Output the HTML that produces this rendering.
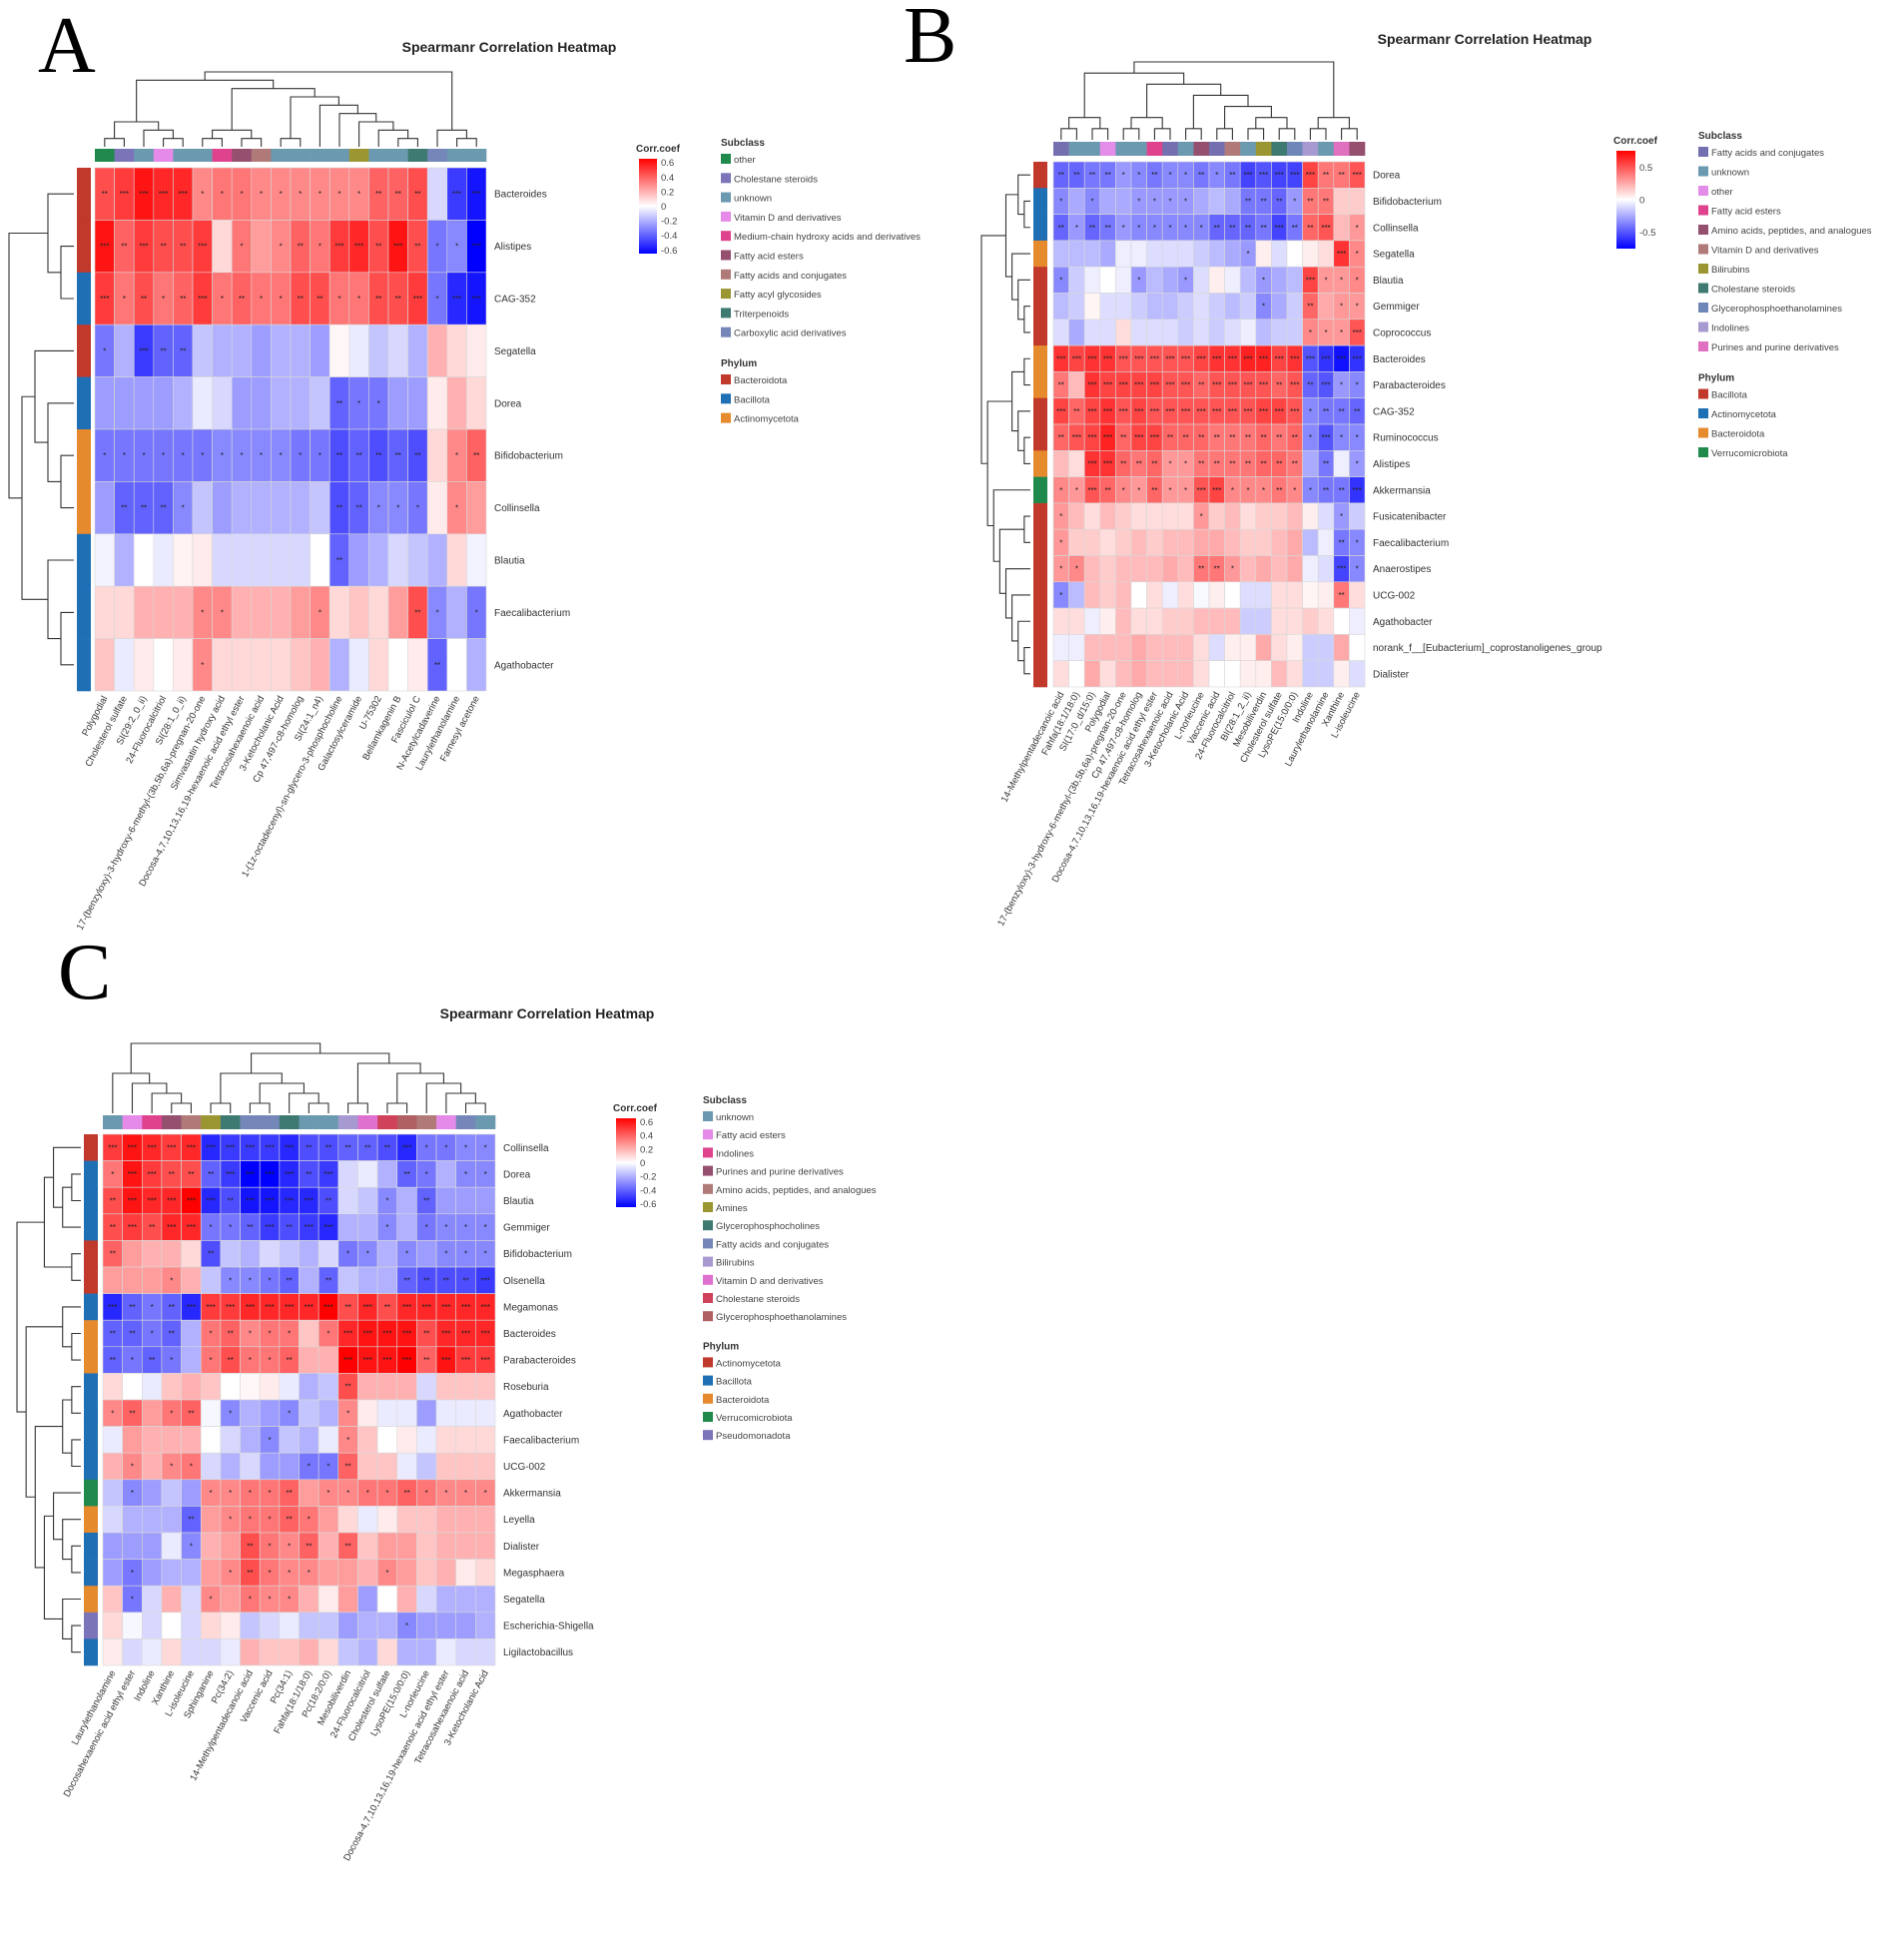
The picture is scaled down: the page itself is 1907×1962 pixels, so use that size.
<!DOCTYPE html>
<html><head><meta charset="utf-8">
<style>
html,body{margin:0;padding:0;background:#fff;}
svg{display:block;font-family:"Liberation Sans",Arial,sans-serif;}
</style></head>
<body>
<svg id="fig" width="1907" height="1962" viewBox="0 0 1907 1962" xmlns="http://www.w3.org/2000/svg">
<rect x="0" y="0" width="1907" height="1962" fill="#fff"/>
<text x="38" y="72" font-family="Liberation Serif,serif" font-size="80">A</text>
<text x="905" y="62" font-family="Liberation Serif,serif" font-size="80">B</text>
<text x="58" y="1000" font-family="Liberation Serif,serif" font-size="80">C</text>
</svg>
<script>
// ---------- Panel A data ----------
const aRows = ["Bacteroides","Alistipes","CAG-352","Segatella","Dorea","Bifidobacterium","Collinsella","Blautia","Faecalibacterium","Agathobacter"];
const aCols = ["Polygodial","Cholesterol sulfate","SI(29:2_0_ii)","24-Fluorocalcitriol","SI(28:1_0_ii)","17-(benzyloxy)-3-hydroxy-6-methyl-(3b,5b,6a)-pregnan-20-one","Simvastatin hydroxy acid","Docosa-4,7,10,13,16,19-hexaenoic acid ethyl ester","Tetracosahexaenoic acid","3-Ketocholanic Acid","Cp 47,497-c8-homolog","SI(24:1_n4)","1-(1z-octadecenyl)-sn-glycero-3-phosphocholine","Galactosylceramide","U-75302","Bellamkagenin B","Fasciculol C","N-Acetylcadaverine","Laurylethanolamine","Farnesyl acetone"];
const aValues = [
[.45,.5,.6,.55,.55,.3,.35,.35,.3,.3,.3,.3,.3,.3,.4,.4,.45,-.1,-.5,-.6],
[.6,.4,.5,.45,.45,.5,.1,.35,.25,.3,.4,.35,.5,.55,.45,.6,.45,-.35,-.3,-.65],
[.5,.35,.45,.35,.4,.5,.35,.4,.35,.35,.45,.45,.35,.35,.45,.45,.5,-.35,-.55,-.6],
[-.35,-.2,-.5,-.4,-.4,-.15,-.2,-.2,-.25,-.2,-.2,-.25,.02,-.05,-.15,-.1,-.2,.2,.1,.05],
[-.25,-.25,-.25,-.25,-.2,-.05,-.1,-.25,-.25,-.2,-.2,-.15,-.4,-.35,-.35,-.25,-.25,.05,.2,.1],
[-.35,-.35,-.35,-.35,-.35,-.35,-.3,-.3,-.3,-.3,-.35,-.35,-.45,-.4,-.45,-.4,-.45,.1,.3,.4],
[-.25,-.4,-.4,-.4,-.3,-.15,-.25,-.2,-.2,-.2,-.2,-.15,-.45,-.4,-.3,-.3,-.35,.05,.3,.25],
[-.03,-.2,0,-.05,.03,.05,-.1,-.1,-.1,-.1,-.1,0,-.4,-.25,-.2,-.1,-.15,-.2,.1,-.03],
[.1,.1,.2,.2,.2,.3,.3,.2,.2,.2,.25,.3,.1,.15,.1,.25,.45,-.3,-.2,-.35],
[.15,-.05,.05,0,.05,.3,.1,.1,.1,.1,.15,.2,-.2,-.05,.1,0,.05,-.4,0,-.2]];
const aColClass = [0,1,2,3,2,2,4,5,6,2,2,2,2,7,2,2,8,9,2,2];
const aRowPhylum = [0,0,1,0,1,2,2,1,1,1];
const aSubclassNames = ["other","Cholestane steroids","unknown","Vitamin D and derivatives","Medium-chain hydroxy acids and derivatives","Fatty acid esters","Fatty acids and conjugates","Fatty acyl glycosides","Triterpenoids","Carboxylic acid derivatives"];
const aSubclassColors = ["#1f8a4c","#7b74b8","#6b9ab0","#e58ae8","#e0438e","#955070","#b07a78","#9b9632","#3f7a72","#7487b8"];
const aPhylumNames = ["Bacteroidota","Bacillota","Actinomycetota"];
const aPhylumColors = ["#c0392b","#1f6fb5","#e68a2e"];
const aTicks = [0.6,0.4,0.2,0,-0.2,-0.4,-0.6];
const aRowTree = [[0,[1,2]],[[3,[4,[5,6]]],[7,[8,9]]]];
const aColTree = [[[[0,1],[2,[3,4]]],[[[5,6],[7,8]],[[9,10],[11,[12,[13,[14,[15,16]]]]]]]],[17,[18,19]]];

// ---------- Panel B data ----------
const bRows = ["Dorea","Bifidobacterium","Collinsella","Segatella","Blautia","Gemmiger","Coprococcus","Bacteroides","Parabacteroides","CAG-352","Ruminococcus","Alistipes","Akkermansia","Fusicatenibacter","Faecalibacterium","Anaerostipes","UCG-002","Agathobacter","norank_f__[Eubacterium]_coprostanoligenes_group","Dialister"];
const bCols = ["14-Methylpentadecanoic acid","Fahfa(18:1/18:0)","SI(17:0_d/15:0)","Polygodial","17-(benzyloxy)-3-hydroxy-6-methyl-(3b,5b,6a)-pregnan-20-one","Cp 47,497-c8-homolog","Docosa-4,7,10,13,16,19-hexaenoic acid ethyl ester","Tetracosahexaenoic acid","3-Ketocholanic Acid","L-norleucine","Vaccenic acid","24-Fluorocalcitriol","BI(28:1_2_ii)","Mesobiliverdin","Cholesterol sulfate","LysoPE(15:0/0:0)","Indoline","Laurylethanolamine","Xanthine","L-isoleucine"];
const bValues = [
[-.45,-.45,-.4,-.4,-.3,-.35,-.4,-.35,-.35,-.4,-.35,-.4,-.55,-.5,-.55,-.55,.55,.4,.4,.5],
[-.35,-.25,-.35,-.25,-.25,-.3,-.3,-.3,-.3,-.25,-.2,-.25,-.4,-.4,-.45,-.3,.4,.4,.15,.15],
[-.45,-.3,-.45,-.4,-.3,-.35,-.35,-.35,-.35,-.35,-.45,-.45,-.45,-.4,-.55,-.4,.45,.5,.2,.3],
[-.2,-.2,-.2,-.25,-.05,-.05,-.1,-.1,-.1,-.15,-.2,-.25,-.3,.05,-.1,0,.05,.1,.6,.35],
[-.35,-.15,-.05,0,-.05,-.3,-.2,-.25,-.3,-.1,.05,-.05,-.2,-.3,-.25,-.2,.55,.3,.3,.35],
[-.2,-.15,.03,-.1,-.1,-.15,-.2,-.2,-.15,-.1,-.15,-.2,-.15,-.35,-.25,-.15,.45,.25,.3,.3],
[-.1,-.25,-.1,-.1,.1,-.1,-.1,-.1,-.15,-.1,-.15,-.1,-.05,-.2,-.15,-.15,.35,.3,.3,.5],
[.6,.55,.6,.6,.5,.5,.5,.5,.5,.55,.6,.6,.65,.65,.55,.6,-.5,-.6,-.7,-.6],
[.4,.2,.6,.55,.55,.55,.55,.5,.5,.45,.5,.5,.5,.5,.45,.5,-.45,-.5,-.3,-.35],
[.55,.45,.55,.6,.5,.55,.5,.5,.5,.5,.5,.5,.5,.55,.55,.5,-.35,-.4,-.4,-.45],
[.45,.5,.55,.65,.45,.55,.55,.45,.45,.45,.4,.4,.4,.45,.4,.45,-.35,-.5,-.35,-.35],
[.2,.1,.6,.6,.45,.4,.45,.3,.3,.4,.4,.4,.4,.45,.45,.4,-.25,-.4,-.05,-.3],
[.35,.3,.5,.45,.35,.3,.45,.3,.3,.5,.55,.35,.35,.35,.4,.35,-.35,-.4,-.4,-.6],
[.3,.2,.1,.2,.15,.1,.1,.1,.1,.3,.15,.2,.1,.15,.15,.2,.05,-.1,-.3,-.15],
[.3,.15,.15,.1,.15,.2,.15,.2,.2,.25,.25,.2,.15,.15,.2,.25,-.2,-.05,-.4,-.35],
[.3,.35,.2,.15,.2,.2,.2,.25,.2,.4,.4,.3,.2,.25,.2,.25,-.05,-.1,-.55,-.35],
[-.35,-.2,.2,.15,.2,0,.1,-.05,.1,-.02,.05,0,-.1,-.1,.1,.1,.03,.05,.4,.1],
[.1,.1,-.05,.05,.2,.1,.1,.15,.15,.2,.2,.2,-.15,-.15,.1,.1,.15,.1,0,-.05],
[-.05,-.05,.2,.2,.2,.25,.2,.2,.2,.1,-.1,.05,.05,.25,.1,.05,-.15,-.15,.25,0],
[.1,0,.25,.1,.2,.25,.2,.2,.2,.1,0,0,.05,.05,.2,.1,-.15,-.15,.05,-.1]];
const bColClass = [0,1,1,2,1,1,3,0,1,4,0,5,1,6,7,8,9,1,10,4];
const bRowPhylum = [0,1,1,2,0,0,0,2,2,0,0,2,3,0,0,0,0,0,0,0];
const bSubclassNames = ["Fatty acids and conjugates","unknown","other","Fatty acid esters","Amino acids, peptides, and analogues","Vitamin D and derivatives","Bilirubins","Cholestane steroids","Glycerophosphoethanolamines","Indolines","Purines and purine derivatives"];
const bSubclassColors = ["#7470b0","#6b9ab0","#e48de8","#e0438e","#955070","#b07a78","#9b9632","#3f7a72","#6f87b8","#a79ad0","#e070c0"];
const bPhylumNames = ["Bacillota","Actinomycetota","Bacteroidota","Verrucomicrobiota"];
const bPhylumColors = ["#c0392b","#1f6fb5","#e68a2e","#1f8a4c"];
const bTicks = [0.5,0,-0.5];
const bRowTree = [[[0,[1,2]],[3,[4,[5,6]]]],[[[7,8],[9,[10,11]]],[12,[[13,14],[15,[16,[17,[18,19]]]]]]]];
const bColTree = [[[[0,1],[2,3]],[[[4,5],[6,7]],[[8,9],[[10,11],[[12,13],[14,15]]]]]],[[16,17],[18,19]]];

// ---------- Panel C data ----------
const cRows = ["Collinsella","Dorea","Blautia","Gemmiger","Bifidobacterium","Olsenella","Megamonas","Bacteroides","Parabacteroides","Roseburia","Agathobacter","Faecalibacterium","UCG-002","Akkermansia","Leyella","Dialister","Megasphaera","Segatella","Escherichia-Shigella","Ligilactobacillus"];
const cCols = ["Laurylethanolamine","Docosahexaenoic acid ethyl ester","Indoline","Xanthine","L-isoleucine","Sphinganine","Pc(34:2)","14-Methylpentadecanoic acid","Vaccenic acid","Pc(34:1)","Fahfa(18:1/18:0)","Pc(18:2/0:0)","Mesobiliverdin","24-Fluorocalcitriol","Cholesterol sulfate","LysoPE(15:0/0:0)","L-norleucine","Docosa-4,7,10,13,16,19-hexaenoic acid ethyl ester","Tetracosahexaenoic acid","3-Ketocholanic Acid"];
const cValues = [
[.5,.6,.55,.5,.55,-.55,-.5,-.5,-.5,-.55,-.45,-.45,-.4,-.4,-.45,-.55,-.35,-.35,-.3,-.3],
[.35,.6,.5,.45,.45,-.4,-.5,-.65,-.7,-.55,-.45,-.5,-.1,-.05,-.2,-.4,-.35,-.2,-.3,-.3],
[.45,.6,.55,.55,.65,-.55,-.45,-.6,-.6,-.55,-.55,-.45,-.1,-.15,-.3,-.2,-.4,-.25,-.25,-.25],
[.45,.5,.45,.55,.55,-.35,-.35,-.4,-.5,-.45,-.5,-.55,-.2,-.2,-.3,-.2,-.35,-.3,-.3,-.3],
[.4,.25,.2,.2,.1,-.45,-.15,-.2,-.1,-.15,-.2,-.1,-.35,-.3,-.2,-.3,-.25,-.3,-.3,-.3],
[.25,.25,.25,.3,.2,-.15,-.3,-.3,-.35,-.4,-.2,-.4,-.15,-.2,-.2,-.4,-.45,-.45,-.45,-.5],
[-.55,-.4,-.35,-.4,-.55,.5,.5,.55,.55,.55,.55,.65,.45,.55,.45,.55,.55,.55,.55,.55],
[-.4,-.4,-.35,-.4,-.2,.35,.4,.3,.35,.35,.15,.35,.55,.6,.6,.6,.45,.55,.55,.55],
[-.4,-.35,-.4,-.35,-.2,.35,.45,.35,.35,.4,.2,.2,.65,.6,.6,.65,.4,.6,.5,.5],
[.1,0,-.05,.15,.2,.15,0,.02,.05,-.05,-.2,-.15,.45,.2,.2,.2,-.1,.15,.15,.15],
[.3,.4,.25,.35,.4,-.02,-.3,-.2,-.25,-.3,-.15,-.2,.3,.05,-.05,-.05,-.25,-.05,-.05,-.05],
[-.05,.25,.2,.2,.2,0,-.1,-.2,-.3,-.15,-.2,-.05,.3,.15,0,.05,-.05,.1,.1,.1],
[.2,.3,.2,.3,.35,-.1,-.2,-.1,-.25,-.25,-.35,-.35,.4,.15,.15,-.05,-.15,.15,.15,.15],
[-.15,-.3,-.25,-.15,-.25,.3,.3,.35,.35,.4,.25,.3,.3,.35,.35,.4,.35,.3,.3,.3],
[-.1,-.2,-.2,-.2,-.4,.25,.3,.35,.35,.4,.35,.25,.1,-.05,.05,.15,.15,.2,.2,.2],
[-.25,-.25,-.25,-.05,-.3,.2,.25,.45,.35,.3,.4,.2,.4,.15,.25,.25,.15,.2,.2,.2],
[-.25,-.35,-.25,-.2,-.2,.25,.3,.45,.35,.3,.3,.25,.25,.2,.3,.25,.15,.2,.05,.1],
[.15,-.35,-.1,.2,-.1,.3,.25,.35,.3,.3,.2,.05,.25,-.25,0,.2,-.1,-.2,-.2,-.2],
[.1,-.02,-.1,0,-.1,.1,.05,-.15,-.1,-.05,-.15,-.15,-.25,-.2,-.2,-.3,-.25,-.25,-.25,-.2],
[.05,-.1,-.05,.1,-.1,-.1,-.05,.2,.15,.15,.2,.1,-.15,-.2,.1,-.2,-.2,-.05,-.1,-.1]];
const cColClass = [0,1,2,3,4,5,6,7,7,6,0,0,8,9,10,11,4,1,7,0];
const cRowPhylum = [0,1,1,1,0,0,1,2,2,1,1,1,1,3,2,1,1,2,4,1];
const cSubclassNames = ["unknown","Fatty acid esters","Indolines","Purines and purine derivatives","Amino acids, peptides, and analogues","Amines","Glycerophosphocholines","Fatty acids and conjugates","Bilirubins","Vitamin D and derivatives","Cholestane steroids","Glycerophosphoethanolamines"];
const cSubclassColors = ["#6b9ab0","#e58ae8","#e0438e","#955070","#b07a78","#9b9632","#3f7a72","#7487b8","#a79ad0","#e070d0","#d0415a","#b06060"];
const cPhylumNames = ["Actinomycetota","Bacillota","Bacteroidota","Verrucomicrobiota","Pseudomonadota"];
const cPhylumColors = ["#c0392b","#1f6fb5","#e68a2e","#1f8a4c","#7b74b8"];
const cTicks = [0.6,0.4,0.2,0,-0.2,-0.4,-0.6];
const cRowTree = [[[0,[[1,2],3]],[4,5]],[[6,[7,8]],[[[9,10],[11,12]],[[13,[14,[15,16]]],[17,[18,19]]]]]];
const cColTree = [[0,[1,[2,[3,4]]]],[[[5,6],[[7,8],[9,[10,11]]]],[[12,13],[[14,15],[16,[17,[18,19]]]]]]];

const NS = "http://www.w3.org/2000/svg";
const svg = document.getElementById("fig");
function mk(tag, attrs, parent, txt){
  const e = document.createElementNS(NS, tag);
  for (const k in attrs) e.setAttribute(k, attrs[k]);
  if (txt !== undefined) e.textContent = txt;
  (parent||svg).appendChild(e);
  return e;
}
function colorOf(v, lim){
  let t = Math.max(-1, Math.min(1, v/lim));
  if (t >= 0){ const c = Math.round(255*(1-t)); return `rgb(255,${c},${c})`; }
  const c = Math.round(255*(1+t)); return `rgb(${c},${c},255)`;
}
function stars(v){ const a=Math.abs(v); return a>=0.5?"***":a>=0.4?"**":a>=0.3?"*":""; }
function treeH(n){ return Array.isArray(n) ? 1+Math.max(treeH(n[0]),treeH(n[1])) : 0; }

function drawTree(g, tree, leafPos, base, span, horizontal){
  const H = treeH(tree);
  function rec(n){
    if (!Array.isArray(n)) return {p: leafPos(n), h: 0};
    const a = rec(n[0]), b = rec(n[1]);
    const h = 1+Math.max(a.h,b.h);
    const d = v => base - span*v/H;
    let pts;
    if (horizontal) pts = `${a.p},${d(a.h)} ${a.p},${d(h)} ${b.p},${d(h)} ${b.p},${d(b.h)}`;
    else pts = `${d(a.h)},${a.p} ${d(h)},${a.p} ${d(h)},${b.p} ${d(b.h)},${b.p}`;
    const pl = mk("polyline",{points:pts,fill:"none",stroke:"#333","stroke-width":1.1},g);
    
    
    return {p:(a.p+b.p)/2, h:h};
  }
  rec(tree);
}

function panel(cfg){
  const g = mk("g",{});
  
  
  const nR = cfg.rows.length, nC = cfg.cols.length;
  const cw = (cfg.x1-cfg.x0)/nC, ch = (cfg.y1-cfg.y0)/nR;
  const xOf = j => cfg.x0 + j*cw, yOf = i => cfg.y0 + i*ch;
  const t = mk("text",{x:cfg.titleX,y:cfg.titleY,"text-anchor":"middle","font-size":14,"font-weight":"bold",fill:"#222"},g,"Spearmanr Correlation Heatmap");
  
  
  for (let i=0;i<nR;i++) for (let j=0;j<nC;j++){
    const v = cfg.values[i][j];
    const r = mk("rect",{x:xOf(j),y:yOf(i),width:cw,height:ch,fill:colorOf(v,cfg.lim),stroke:"#d8d8d8","stroke-width":0.6},g);
    
    
    const s = stars(v);
    if (s){
      const st = mk("text",{x:xOf(j)+cw/2,y:yOf(i)+ch/2+3,"text-anchor":"middle","font-size":8,fill:"#222"},g,s);
      
      
    }
  }
  for (let j=0;j<nC;j++){
    const r = mk("rect",{x:xOf(j),y:cfg.annY,width:cw+0.3,height:cfg.annH,fill:cfg.subColors[cfg.colClass[j]]},g);
    
    
  }
  for (let i=0;i<nR;i++){
    const r = mk("rect",{x:cfg.rowAnnX,y:yOf(i),width:cfg.rowAnnW,height:ch+0.3,fill:cfg.phyColors[cfg.rowPhylum[i]]},g);
    
    
  }
  for (let i=0;i<nR;i++){
    const l = mk("text",{x:cfg.x1+8,y:yOf(i)+ch/2+3.5,"font-size":10,fill:"#333"},g,cfg.rows[i]);
    
    
  }
  for (let j=0;j<nC;j++){
    const cx = xOf(j)+cw/2+3, cy = cfg.y1+7;
    const l = mk("text",{x:cx,y:cy,"font-size":9.5,fill:"#333","text-anchor":"end",transform:`rotate(-62 ${cx} ${cy})`},g,cfg.cols[j]);
    
    
  }
  drawTree(g, cfg.rowTree, i => yOf(i)+ch/2, cfg.rowAnnX-3, cfg.rowAnnX-3-cfg.rowTreeLeft, false);
  drawTree(g, cfg.colTree, j => xOf(j)+cw/2, cfg.annY-2, cfg.annY-2-cfg.colTreeTop, true);
  const gid = "grad"+cfg.name;
  const defs = mk("defs",{},g);
  const lg = mk("linearGradient",{id:gid,x1:0,y1:0,x2:0,y2:1},defs);
  mk("stop",{offset:"0%","stop-color":"#ff0000"},lg);
  mk("stop",{offset:"50%","stop-color":"#ffffff"},lg);
  mk("stop",{offset:"100%","stop-color":"#0000ff"},lg);
  const ct = mk("text",{x:cfg.cbX-3,y:cfg.cbY-7,"font-size":10,"font-weight":"bold",fill:"#333"},g,"Corr.coef");
  
  
  const cb = mk("rect",{x:cfg.cbX,y:cfg.cbY,width:cfg.cbW,height:cfg.cbH,fill:`url(#${gid})`},g);
  
  
  for (const tv of cfg.ticks){
    const ty = cfg.cbY + cfg.cbH*(0.5 - tv/(2*cfg.lim));
    const tl = mk("text",{x:cfg.cbX+cfg.cbW+4,y:ty+3.5,"font-size":9.5,fill:"#444"},g,(tv<0?"-":"")+String(Math.abs(tv)));
    
    
  }
  const st = mk("text",{x:cfg.legX,y:cfg.legY,"font-size":10,"font-weight":"bold",fill:"#333"},g,"Subclass");
  
  
  cfg.subNames.forEach((n,k)=>{
    const y = cfg.legY + 8 + k*cfg.legStep;
    const sw = mk("rect",{x:cfg.legX,y:y,width:10,height:10,fill:cfg.subColors[k]},g);
    
    
    const tx = mk("text",{x:cfg.legX+13,y:y+9,"font-size":9.5,fill:"#444"},g,n);
    
    
  });
  const py = cfg.legY + 8 + cfg.subNames.length*cfg.legStep + 20;
  const pt = mk("text",{x:cfg.legX,y:py,"font-size":10,"font-weight":"bold",fill:"#333"},g,"Phylum");
  
  
  cfg.phyNames.forEach((n,k)=>{
    const y = py + 8 + k*cfg.legStep;
    const sw = mk("rect",{x:cfg.legX,y:y,width:10,height:10,fill:cfg.phyColors[k]},g);
    
    
    const tx = mk("text",{x:cfg.legX+13,y:y+9,"font-size":9.5,fill:"#444"},g,n);
    
    
  });
}

panel({name:"heatmap-a",rows:aRows,cols:aCols,values:aValues,colClass:aColClass,rowPhylum:aRowPhylum,
  subNames:aSubclassNames,subColors:aSubclassColors,phyNames:aPhylumNames,phyColors:aPhylumColors,ticks:aTicks,lim:0.65,
  rowTree:aRowTree,colTree:aColTree,
  x0:95,x1:487,y0:168,y1:692,annY:149,annH:13,rowAnnX:77,rowAnnW:14,rowTreeLeft:9,colTreeTop:72,
  titleX:510,titleY:52,cbX:640,cbY:159,cbW:18,cbH:95,legX:722,legY:146,legStep:19.3});

panel({name:"heatmap-b",rows:bRows,cols:bCols,values:bValues,colClass:bColClass,rowPhylum:bRowPhylum,
  subNames:bSubclassNames,subColors:bSubclassColors,phyNames:bPhylumNames,phyColors:bPhylumColors,ticks:bTicks,lim:0.75,
  rowTree:bRowTree,colTree:bColTree,
  x0:1055,x1:1367,y0:162,y1:688,annY:142,annH:14,rowAnnX:1035,rowAnnW:14,rowTreeLeft:983,colTreeTop:62,
  titleX:1487,titleY:44,cbX:1619,cbY:151,cbW:19,cbH:98,legX:1701,legY:139,legStep:19.5});

panel({name:"heatmap-c",rows:cRows,cols:cCols,values:cValues,colClass:cColClass,rowPhylum:cRowPhylum,
  subNames:cSubclassNames,subColors:cSubclassColors,phyNames:cPhylumNames,phyColors:cPhylumColors,ticks:cTicks,lim:0.65,
  rowTree:cRowTree,colTree:cColTree,
  x0:103,x1:496,y0:1136,y1:1668,annY:1117,annH:14,rowAnnX:84,rowAnnW:14,rowTreeLeft:17,colTreeTop:1045,
  titleX:548,titleY:1020,cbX:617,cbY:1120,cbW:20,cbH:89,legX:704,legY:1105,legStep:18.2});
</script>
</body></html>
